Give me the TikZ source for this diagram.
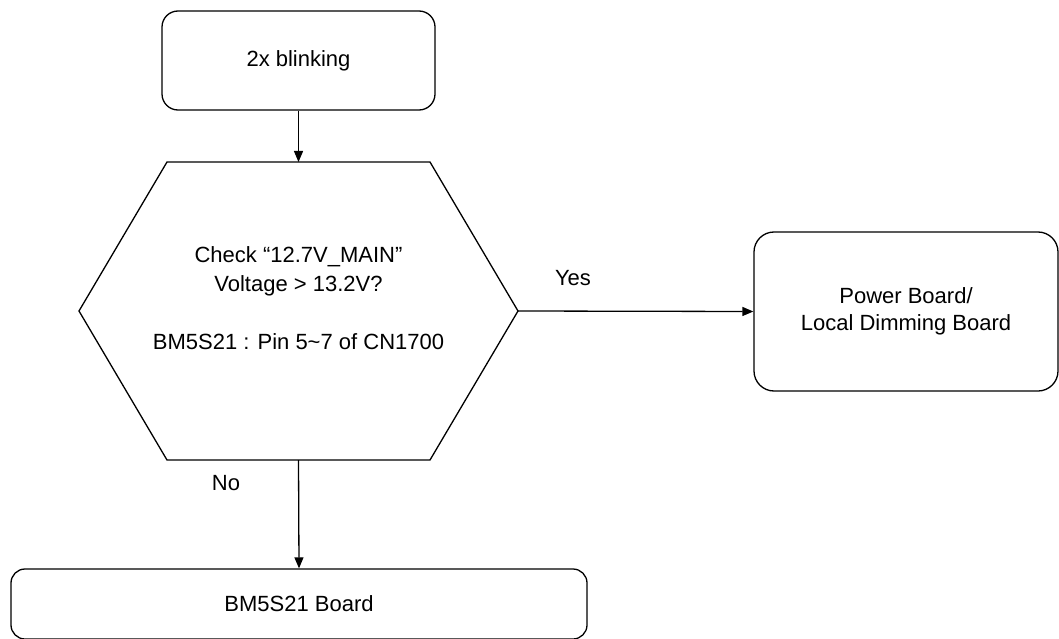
\documentclass[tikz,border=0pt]{standalone}
\usepackage{fontspec}
\setmainfont{Liberation Sans}
\usetikzlibrary{arrows.meta}
\begin{document}
\begin{tikzpicture}[x=1pt,y=-1pt,
  boxnode/.style={draw, line width=1.3pt, rounded corners=16pt, inner sep=0pt, align=center, font=\fontsize{22}{27}\selectfont},
  txt/.style={inner sep=0pt, align=center, font=\fontsize{22}{29}\selectfont},
  conn/.style={line width=1.3pt, -{Triangle[length=11pt,width=9pt]}}]
\useasboundingbox (0,0) rectangle (1059,639);
\node[boxnode, minimum width=273pt, minimum height=99pt] (start) at (298.5,60.5) {2x blinking};
\coordinate (ht) at (298.5,162);
\coordinate (hb) at (298.5,460);
\coordinate (hr) at (518,311);
\coordinate (hl) at (79,311);
\draw[line width=1.3pt] (167,162) -- (430,162) -- (hr) -- (430,460) -- (167,460) -- (hl) -- cycle;
\node[txt] (check) at (298.5,298) {Check “12.7V\_MAIN”\\Voltage > 13.2V?\\ \\BM5S21 : Pin 5\char`\~7 of CN1700};
\node[boxnode, rounded corners=20pt, minimum width=304pt, minimum height=159pt] (power) at (906,311.5) {Power Board/\\Local Dimming Board};
\node[boxnode, rounded corners=14pt, minimum width=576pt, minimum height=70pt] (bm) at (299,604) {BM5S21 Board};
\draw[conn] (start.south) -- (ht);
\draw[conn] (hr) -- (power.west);
\draw[conn] (hb) -- (bm.north);
\node[txt] (yes) at (573,278) {Yes};
\node[txt] (no) at (226,483) {No};
\end{tikzpicture}
\end{document}
